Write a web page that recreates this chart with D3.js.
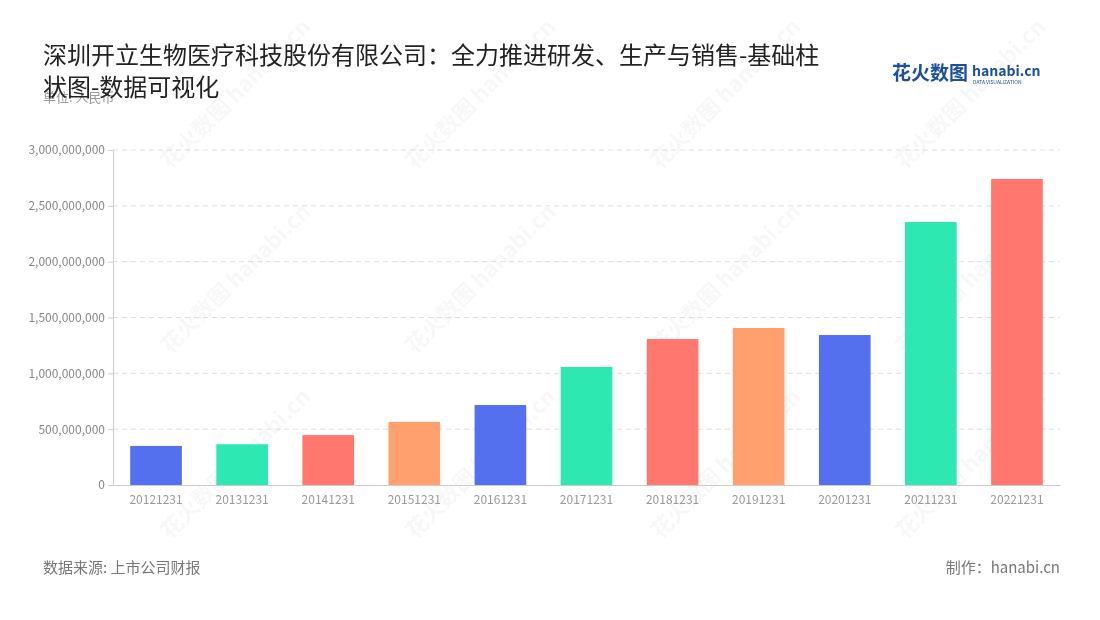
<!DOCTYPE html><html><head><meta charset="utf-8">
<script src="https://cdn.jsdelivr.net/npm/d3@7"></script>
<style>body{margin:0;background:#fff;font-family:"Noto Sans CJK SC","Noto Sans",sans-serif}</style></head><body>
<svg id="c" width="1100" height="620"></svg>
<script>
const categories=["20121231","20131231","20141231","20151231","20161231","20171231","20181231","20191231","20201231","20211231","20221231"];
const values=[350e6,365e6,447e6,565e6,716e6,1057e6,1307e6,1406e6,1343e6,2355e6,2740e6];
const colors=["#5470ee","#2de8b0","#ff776f","#ffa06e"];
const yTicks=[0,5e8,1e9,1.5e9,2e9,2.5e9,3e9];
const svg=d3.select("#c");
const f="'Noto Sans CJK SC','Noto Sans',sans-serif";
const x=d3.scaleBand().domain(categories).range([113,1060]).paddingInner(0.4).paddingOuter(0.2);
const y=d3.scaleLinear().domain([0,3e9]).range([485,150]);
const wm=svg.append("g").attr("fill","#000").attr("opacity",0.035).attr("font-family",f).attr("font-size",22).attr("font-weight","bold");
for(const cx of [170,415,660,905]) for(const cy of [170,355,540]){
 wm.append("text").attr("transform",`translate(${cx},${cy}) rotate(-45)`).text("花火数图 hanabi.cn");
}
svg.append("g").selectAll("line").data(yTicks.slice(1)).join("line")
 .attr("x1",113).attr("x2",1060).attr("y1",d=>y(d)).attr("y2",d=>y(d))
 .attr("stroke","#ddd").attr("stroke-dasharray","5,4");
svg.append("g").selectAll("rect").data(values).join("rect")
 .attr("x",(d,i)=>x(categories[i])).attr("width",x.bandwidth())
 .attr("y",d=>y(d)).attr("height",d=>y(0)-y(d)).attr("fill",(d,i)=>colors[i%4]);
const ya=svg.append("g").attr("transform","translate(113,0)")
 .call(d3.axisLeft(y).tickValues(yTicks).tickFormat(d3.format(",")).tickSize(5));
ya.select(".domain").attr("stroke","#ccc");
ya.selectAll("line").attr("stroke","#ccc");
ya.selectAll("text").attr("fill","#888").attr("font-size",12).attr("font-family",f);
const xa=svg.append("g").attr("transform","translate(0,485)").call(d3.axisBottom(x).tickSize(0).tickPadding(10));
xa.select(".domain").attr("stroke","#ccc");
xa.selectAll("text").attr("fill","#999").attr("font-size",12).attr("font-family",f);
svg.append("text").attr("x",43).attr("y",102).attr("fill","#999").attr("font-size",13).attr("font-family",f).text("单位: 人民币");
const t=svg.append("text").attr("font-family",f).attr("font-size",24).attr("fill","#222");
t.append("tspan").attr("x",43).attr("y",64).text("深圳开立生物医疗科技股份有限公司：全力推进研发、生产与销售-基础柱");
t.append("tspan").attr("x",43).attr("y",96).text("状图-数据可视化");
svg.append("text").attr("x",892).attr("y",80).attr("font-family",f).attr("font-size",19).attr("font-weight","bold").attr("fill","#1d4fa0").text("花火数图");
svg.append("text").attr("x",972).attr("y",76).attr("font-family",f).attr("font-size",14).attr("font-weight","bold").attr("fill","#1d4fa0").text("hanabi.cn");
svg.append("text").attr("x",973).attr("y",84).attr("font-family",f).attr("font-size",5).attr("fill","#1d4fa0").text("DATA VISUALIZATION");
svg.append("text").attr("x",43).attr("y",573).attr("fill","#777").attr("font-size",15).attr("font-family",f).text("数据来源: 上市公司财报");
svg.append("text").attr("x",1060).attr("y",573).attr("text-anchor","end").attr("fill","#777").attr("font-size",15).attr("font-family",f).text("制作：hanabi.cn");
</script></body></html>
